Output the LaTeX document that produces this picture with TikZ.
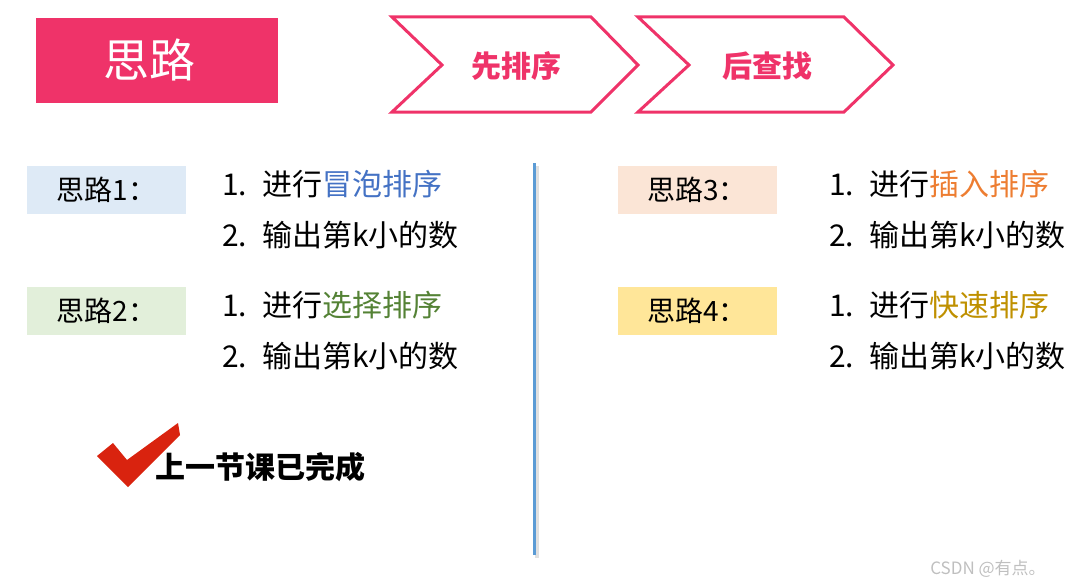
\documentclass[tikz,border=0pt]{standalone}
\usepackage{fontspec}
\setmainfont{Noto Sans CJK SC}
\usetikzlibrary{calc}
\usetikzlibrary{positioning}
\definecolor{rosered}{HTML}{EF3369}
\definecolor{tagblue}{HTML}{DEEAF6}
\definecolor{taggreen}{HTML}{E2EFDA}
\definecolor{tagpeach}{HTML}{FBE5D6}
\definecolor{tagyellow}{HTML}{FFE699}
\definecolor{sortblue}{HTML}{4472C4}
\definecolor{sortgreen}{HTML}{548235}
\definecolor{sortorange}{HTML}{ED7D31}
\definecolor{sortgold}{HTML}{BF9000}
\definecolor{dividerblue}{HTML}{5B9BD5}
\definecolor{checkred}{HTML}{D9230F}
\tikzstyle{tag}=[
  minimum width=159pt,
  minimum height=48pt,
  inner sep=0pt,
  font=\fontsize{28}{28}\selectfont
]
\tikzstyle{item}=[
  anchor=west,
  inner sep=0pt,
  text height=22pt,
  text depth=6pt,
  font=\fontsize{30}{30}\selectfont
]
\tikzstyle{chevron}=[
  draw=rosered,
  line width=3pt,
  line join=miter
]
\tikzstyle{chevtext}=[
  text=rosered,
  font=\fontsize{30}{30}\selectfont\bfseries
]
\newcommand{\drawidea}[8]{{
  \node[tag, fill=#4] (t#1) at (#2, #3) {#5};
  \node[item] (i#1a) at (#6, #3 - 3) {\makebox[40pt][l]{1.}进行\textcolor{#7}{#8}};
  \node[item] (i#1b) at (#6, #3 + 48) {\makebox[40pt][l]{2.}输出第k小的数};
}}

\begin{document}
\begin{tikzpicture}[x=1pt, y=-1pt]
  \useasboundingbox (0,0) rectangle (1066,586);

  % title block
  \node[fill=rosered, minimum width=242pt, minimum height=85pt, inner sep=0pt] (titlebox) at (157,60.5) {};
  \node[text=white, font=\fontsize{46}{46}\selectfont] (titletext) at (149,60) {思路};

  % two arrows
  \draw[chevron] (392,17) -- (591,17) -- (638,65) -- (591,112) -- (392,112) -- (442,65) -- cycle;
  \draw[chevron] (638,17) -- (844,17) -- (893,65) -- (844,112) -- (638,112) -- (689,65) -- cycle;
  \node[chevtext] (first) at (516,66) {先排序};
  \node[chevtext] (then) at (767,66) {后查找};

  \drawidea{1}{106.5}{190}{tagblue}{思路1：}{222}{sortblue}{冒泡排序}
  \drawidea{2}{106.5}{311}{taggreen}{思路2：}{222}{sortgreen}{选择排序}
  \drawidea{3}{697}{190}{tagpeach}{思路3：}{829}{sortorange}{插入排序}
  \drawidea{4}{697}{311}{tagyellow}{思路4：}{829}{sortgold}{快速排序}

  % divider
  \draw[black!12, line width=4pt] (537,166) -- (537,558);
  \draw[dividerblue, line width=3pt] (534,163) -- (534,555);

  % done mark
  \fill[checkred] (97,456) -- (113,443) -- (127,460) -- (178,423) -- (180,435) -- (128,487) -- cycle;
  \node[font=\fontsize{30}{30}\selectfont\bfseries] (done) at (260,467) {上一节课已完成};

  \node[text=black!25, font=\fontsize{17}{17}\selectfont] (mark) at (988,569) {CSDN @有点。};
\end{tikzpicture}
\end{document}
